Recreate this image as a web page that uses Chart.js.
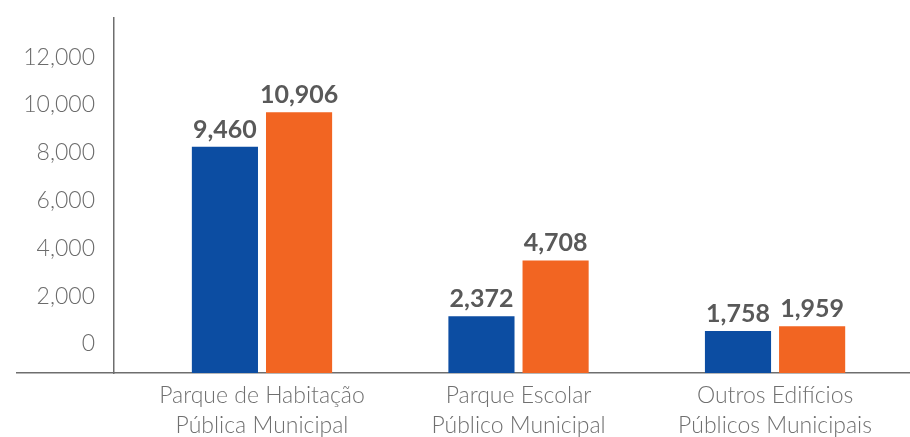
<!DOCTYPE html>
<html>
<head>
<meta charset="utf-8">
<script src="https://cdn.jsdelivr.net/npm/chart.js@4/dist/chart.umd.min.js"></script>
<style>
  html, body { margin: 0; padding: 0; background: #ffffff; }
  #wrap { width: 910px; height: 437px; position: relative; overflow: hidden; }
</style>
</head>
<body>
<div id="wrap"><canvas id="chart"></canvas></div>
<script>
// Categories (two-line labels) and the two series
const categories = [
  ['Parque de Habitação', 'Pública Municipal'],
  ['Parque Escolar', 'Público Municipal'],
  ['Outros Edifícios', 'Públicos Municipais']
];
const seriesBlue = [9460, 2372, 1758];
const seriesOrange = [10906, 4708, 1959];
const yTickValues = [0, 2000, 4000, 6000, 8000, 10000, 12000];

const BLUE = '#0c4da2';
const ORANGE = '#f26522';
const AXIS = '#6e6e6e';
const Y_MAX = 14850;

const toPoints = (vals) => vals.map((v, i) => ({ x: i + 1, y: v }));

// Value labels drawn above each bar
const barValueLabels = {
  id: 'barValueLabels',
  afterDatasetsDraw(chart) {
    const ctx = chart.ctx;
    ctx.save();
    ctx.font = 'bold 25px Lato, "Open Sans", sans-serif';
    ctx.fillStyle = '#595959';
    ctx.textAlign = 'center';
    ctx.textBaseline = 'alphabetic';
    chart.data.datasets.forEach((ds, di) => {
      chart.getDatasetMeta(di).data.forEach((bar, i) => {
        const v = ds.data[i].y;
        ctx.fillText(v.toLocaleString('en-US'), bar.x, bar.y - 9);
      });
    });
    ctx.restore();
  }
};

const useYTicks = (scale) => { scale.ticks = yTickValues.map(v => ({ value: v })); };

new Chart(document.getElementById('chart'), {
  type: 'bar',
  data: {
    datasets: [
      { data: toPoints(seriesBlue), backgroundColor: BLUE, borderWidth: 0,
        categoryPercentage: 0.578, barPercentage: 0.892 },
      { data: toPoints(seriesOrange), backgroundColor: ORANGE, borderWidth: 0,
        categoryPercentage: 0.578, barPercentage: 0.892 }
    ]
  },
  options: {
    responsive: true,
    maintainAspectRatio: false,
    animation: false,
    // the category labels run off the lower edge of the canvas
    layout: { padding: { left: 17, right: 0, top: 18, bottom: -11.5 } },
    plugins: { legend: { display: false }, tooltip: { enabled: false } },
    scales: {
      x: {
        type: 'linear',
        min: 0.045,
        max: 3.526,
        offset: false,
        grid: { display: false, drawTicks: false },
        border: { display: true, color: AXIS, width: 1.5 },
        afterBuildTicks(scale) {
          scale.ticks = categories.map((c, i) => ({ value: i + 1 }));
        },
        ticks: {
          autoSkip: false,
          maxRotation: 0,
          includeBounds: false,
          padding: 8.3,
          color: '#707070',
          font: { family: 'Lato', size: 23, weight: '300', lineHeight: 1.28 },
          callback: (value) => categories[Math.round(value) - 1] || ''
        }
      },
      // value axis: carries the vertical axis line
      y: {
        axis: 'y',
        position: { x: 0.423 },
        min: 0,
        max: Y_MAX,
        grid: { display: false, drawTicks: false },
        border: { display: true, color: AXIS, width: 1.5 },
        afterBuildTicks: useYTicks,
        ticks: { display: false }
      },
      // companion axis that carries the tick labels, left of the axis line
      yLabels: {
        axis: 'y',
        position: { x: 0.349 },
        min: 0,
        max: Y_MAX,
        grid: { display: false, drawTicks: false },
        border: { display: false },
        afterBuildTicks: useYTicks,
        ticks: {
          padding: 0,
          labelOffset: -29,
          color: '#6b6b6b',
          font: { family: 'Lato', size: 23, weight: '300' },
          callback: (value) => Number(value).toLocaleString('en-US')
        }
      }
    }
  },
  plugins: [barValueLabels]
});
</script>
</body>
</html>
